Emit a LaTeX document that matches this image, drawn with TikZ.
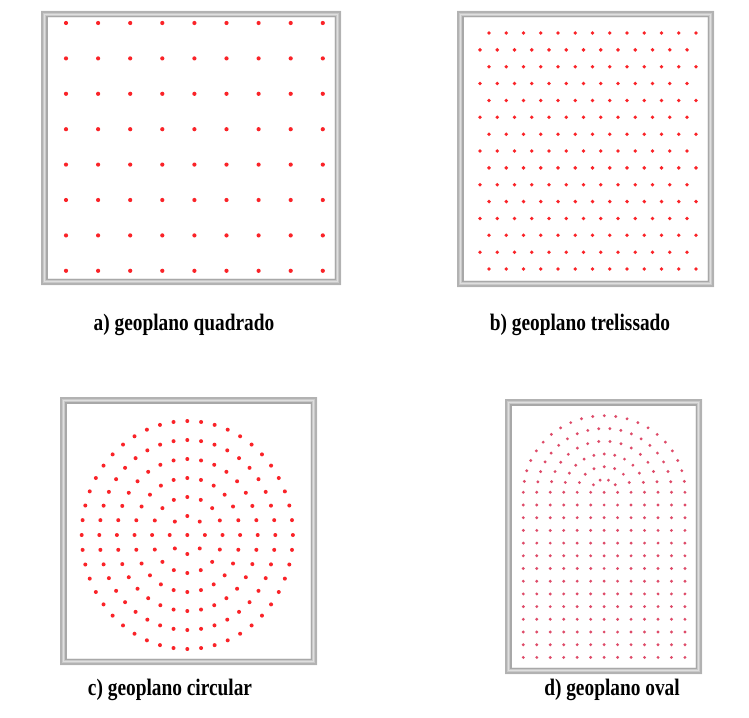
\documentclass[tikz,border=0pt]{standalone}
\usepackage{fontspec}
\setmainfont{Liberation Serif}
\definecolor{dotred}{RGB}{250,35,40}
\definecolor{dotpink}{RGB}{222,75,105}
\tikzset{
  lab/.style={font=\bfseries\fontsize{21.5}{25}\selectfont, inner sep=0pt, anchor=center},
  bandfill/.style={fill=gray!42},
  outerline/.style={draw=gray!60, line width=1.6pt},
  innerline/.style={draw=gray!68, line width=1.6pt},
  midline/.style={draw=gray!25, line width=0.9pt},
}
\newcommand{\geoframe}[4]{%
  \fill[bandfill, even odd rule] (#1,#2) rectangle (#3,#4) ({#1+6.5},{#2+6.5}) rectangle ({#3-6.5},{#4-6.5});
  \draw[outerline] ({#1+0.8},{#2+0.8}) rectangle ({#3-0.8},{#4-0.8});
  \draw[midline] ({#1+3.2},{#2+3.2}) rectangle ({#3-3.2},{#4-3.2});
  \draw[innerline] ({#1+5.7},{#2+5.7}) rectangle ({#3-5.7},{#4-5.7});
}
\newcommand{\condtext}[1]{\scalebox{0.9}[1.1]{#1}}
\begin{document}
\begin{tikzpicture}[x=1pt,y=-1pt]
\useasboundingbox (0,0) rectangle (749,717);
\fill[white] (0,0) rectangle (749,717);
% frames
\geoframe{41}{11}{341}{285}
\geoframe{457}{11}{714}{287}
\geoframe{60}{397}{317}{665}
\geoframe{505}{399}{702}{674}
% a) square grid
\foreach \i in {0,...,8}{
  \foreach \j in {0,...,7}{
    \fill[dotred] ({66+32.1*\i},{23+35.4*\j}) circle (2.1pt);
  }
}
% b) trellis grid
\foreach \j in {0,2,...,14}{
  \foreach \i in {0,...,12}{
    \fill[dotred] ({489+17.25*\i},{33+16.86*\j}) circle (1.9pt);
  }
}
\foreach \j in {1,3,...,13}{
  \foreach \i in {0,...,12}{
    \fill[dotred] ({480+17.25*\i},{33+16.86*\j}) circle (1.9pt);
  }
}
% c) circular
\fill[dotred] (187.3,535) circle (2pt);
\foreach \k in {1,...,6}{
  \pgfmathtruncatemacro\nn{8*\k-1}
  \foreach \m in {0,...,\nn}{
    \fill[dotred] ({187.3+17.6*\k*cos(45*\m/\k)},{535-19*\k*sin(45*\m/\k)}) circle (2pt);
  }
}
% d) oval
\foreach \i in {0,...,12}{
  \foreach \j in {0,...,13}{
    \fill[dotpink] ({523.3+13.47*\i},{492.3+12.7*\j}) circle (1.6pt);
  }
}
\foreach \k/\n in {1/4,2/7,3/11,4/14,5/18,6/21}{
  \foreach \m in {1,...,\n}{
    \fill[dotpink] ({604.3-13.47*\k*cos(180*\m/(\n+1))},{492.3-12.77*\k*sin(180*\m/(\n+1))}) circle (1.6pt);
  }
}
% labels
\node[lab] (la) at (184,325) {\condtext{a) geoplano quadrado}};
\node[lab] (lb) at (580,325) {\condtext{b) geoplano trelissado}};
\node[lab] (lc) at (170,690) {\condtext{c) geoplano circular}};
\node[lab] (ld) at (612,690) {\condtext{d) geoplano oval}};
\end{tikzpicture}
\end{document}
